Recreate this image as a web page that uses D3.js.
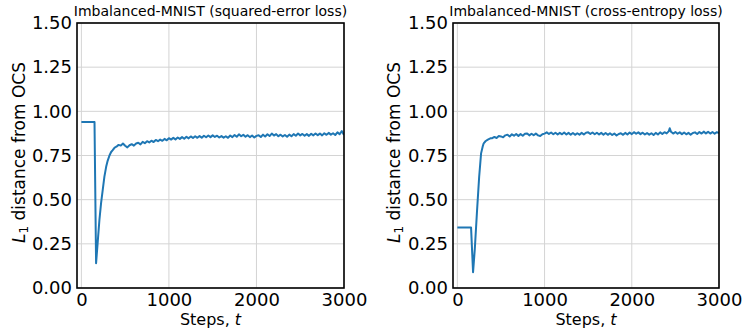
<!DOCTYPE html>
<html>
<head>
<meta charset="utf-8">
<script src="https://cdn.jsdelivr.net/npm/d3@7"></script>
<style>
html,body{margin:0;padding:0;background:#fff;}
svg{display:block;font-family:"DejaVu Sans",sans-serif;}
</style>
</head>
<body>
<svg id="chart" width="743" height="330"></svg>
<script>
const titles = ["Imbalanced-MNIST (squared-error loss)", "Imbalanced-MNIST (cross-entropy loss)"];
const xTicks = [0, 1000, 2000, 3000];
const yTicks = [0, 0.25, 0.5, 0.75, 1.0, 1.25, 1.5];

const stepsSq = [0,150,168,185,206,225,244,263,283,300,321,340,358,380,400,
425,450,475,500,525,550,575,600,625,650,675,700,725,750,775,800,825,850,875,900,925,950,975,1000,
1025,1050,1075,1100,1125,1150,1175,1200,1225,1250,1275,1300,1325,1350,1375,1400,1425,1450,1475,1500,
1525,1550,1575,1600,1625,1650,1675,1700,1725,1750,1775,1800,1825,1850,1875,1900,1925,1950,1975,2000,
2025,2050,2075,2100,2125,2150,2175,2200,2225,2250,2275,2300,2325,2350,2375,2400,2425,2450,2475,2500,
2525,2550,2575,2600,2625,2650,2675,2700,2725,2750,2775,2800,2825,2850,2875,2900,2925,2950,2975,3000];
const distSq = [0.94,0.94,0.14,0.25,0.385,0.48,0.555,0.63,0.686,0.72,0.75,0.77,0.78,0.795,0.80,
0.81,0.806,0.818,0.805,0.796,0.808,0.814,0.806,0.818,0.822,0.813,0.827,0.82,0.831,0.824,0.834,0.826,0.838,0.831,0.84,0.833,0.844,0.836,0.848,
0.84,0.85,0.841,0.852,0.844,0.854,0.845,0.856,0.847,0.858,0.849,0.859,0.85,0.86,0.851,0.862,0.853,0.863,0.854,0.864,
0.855,0.862,0.852,0.86,0.851,0.859,0.85,0.863,0.854,0.866,0.856,0.87,0.859,0.867,0.856,0.865,0.854,0.863,0.852,0.861,
0.865,0.855,0.868,0.858,0.87,0.86,0.874,0.863,0.871,0.859,0.868,0.858,0.866,0.856,0.868,0.859,0.871,0.862,0.874,0.864,
0.872,0.862,0.871,0.861,0.873,0.864,0.875,0.865,0.874,0.864,0.876,0.867,0.878,0.868,0.876,0.866,0.881,0.87,0.888,0.866];

const stepsCe = [0,157,180,200,226,250,272,290,302,325,350,378,400,
425,450,475,500,525,550,575,600,625,650,675,700,725,750,775,800,825,850,875,900,925,950,975,1000,
1025,1050,1075,1100,1125,1150,1175,1200,1225,1250,1275,1300,1325,1350,1375,1400,1425,1450,1475,1500,
1525,1550,1575,1600,1625,1650,1675,1700,1725,1750,1775,1800,1825,1850,1875,1900,1925,1950,1975,2000,
2025,2050,2075,2100,2125,2150,2175,2200,2225,2250,2275,2300,2325,2350,2375,2400,2425,2435,2450,2475,2500,
2525,2550,2575,2600,2625,2650,2675,2700,2725,2750,2775,2800,2825,2850,2875,2900,2925,2950,2975,3000];
const distCe = [0.343,0.343,0.089,0.22,0.441,0.63,0.762,0.80,0.819,0.832,0.84,0.847,0.848,
0.855,0.849,0.86,0.858,0.853,0.864,0.868,0.858,0.87,0.862,0.872,0.861,0.871,0.862,0.873,0.875,0.864,0.873,0.865,0.874,0.864,0.86,0.87,0.874,
0.881,0.872,0.88,0.87,0.879,0.869,0.878,0.87,0.88,0.869,0.878,0.868,0.877,0.867,0.876,0.868,0.878,0.869,0.879,0.881,
0.872,0.88,0.87,0.879,0.869,0.878,0.868,0.877,0.867,0.876,0.866,0.874,0.863,0.872,0.876,0.867,0.878,0.869,0.88,0.871,
0.882,0.873,0.881,0.871,0.879,0.869,0.877,0.868,0.876,0.866,0.878,0.869,0.881,0.872,0.882,0.875,0.888,0.904,0.884,0.874,0.883,
0.873,0.881,0.871,0.88,0.87,0.878,0.868,0.877,0.881,0.872,0.883,0.874,0.885,0.875,0.884,0.874,0.883,0.873,0.882,0.877];

const panels = [
  {title: titles[0], steps: stepsSq, vals: distSq, left: 77, right: 344, ylabX: 25},
  {title: titles[1], steps: stepsCe, vals: distCe, left: 453, right: 719, ylabX: 400}
];
const plotTop = 23, plotBottom = 288;
const svg = d3.select("#chart");
svg.append("rect").attr("width",743).attr("height",330).attr("fill","#fff");

panels.forEach((p, i) => {
  const x = d3.scaleLinear().domain([-50, 3000]).range([p.left, p.right]);
  const y = d3.scaleLinear().domain([0, 1.5]).range([plotBottom, plotTop]);
  const g = svg.append("g");
  const clipId = "clip" + i;
  svg.append("clipPath").attr("id", clipId).append("rect")
    .attr("x", p.left).attr("y", plotTop).attr("width", p.right - p.left).attr("height", plotBottom - plotTop);

  g.selectAll(".vg").data(xTicks).enter().append("line")
    .attr("x1", d => x(d)).attr("x2", d => x(d)).attr("y1", plotTop).attr("y2", plotBottom)
    .attr("stroke", "#d4d4d4").attr("stroke-width", 1);
  g.selectAll(".hg").data(yTicks).enter().append("line")
    .attr("x1", p.left).attr("x2", p.right).attr("y1", d => y(d)).attr("y2", d => y(d))
    .attr("stroke", "#d4d4d4").attr("stroke-width", 1);

  const data = p.steps.map((s, k) => [s, p.vals[k]]);
  g.append("path").datum(data)
    .attr("clip-path", `url(#${clipId})`)
    .attr("fill", "none").attr("stroke", "#1f77b4").attr("stroke-width", 2)
    .attr("stroke-linejoin", "round")
    .attr("d", d3.line().x(d => x(d[0])).y(d => y(d[1])));

  const ya = g.append("g").attr("transform", `translate(${p.left},0)`)
    .call(d3.axisLeft(y).tickValues(yTicks).tickSize(0).tickPadding(5).tickFormat(d3.format(".2f")));
  ya.select(".domain").remove();
  ya.selectAll("text").attr("font-size", 18).attr("font-family", "DejaVu Sans").attr("fill", "#000");
  const xa = g.append("g").attr("transform", `translate(0,${plotBottom})`)
    .call(d3.axisBottom(x).tickValues(xTicks).tickSize(0).tickPadding(5).tickFormat(d3.format("d")));
  xa.select(".domain").remove();
  xa.selectAll("text").attr("font-size", 18).attr("font-family", "DejaVu Sans").attr("fill", "#000");

  g.append("rect").attr("x", p.left).attr("y", plotTop).attr("width", p.right - p.left).attr("height", plotBottom - plotTop)
    .attr("fill", "none").attr("stroke", "#000").attr("stroke-width", 1.6);

  g.append("text").attr("x", (p.left + p.right) / 2).attr("y", 16).attr("text-anchor", "middle")
    .attr("font-size", 14).attr("fill", "#000").text(p.title);

  const xl = g.append("text").attr("x", (p.left + p.right) / 2).attr("y", 325).attr("text-anchor", "middle")
    .attr("font-size", 16).attr("fill", "#000");
  xl.append("tspan").text("Steps, ");
  xl.append("tspan").attr("font-style", "italic").text("t");

  const yl = g.append("text").attr("transform", `translate(${p.ylabX},${(plotTop + plotBottom) / 2 - 3}) rotate(-90)`)
    .attr("text-anchor", "middle").attr("font-size", 17).attr("fill", "#000");
  yl.append("tspan").attr("font-style", "italic").text("L");
  yl.append("tspan").attr("font-size", 12).attr("dy", 3).text("1");
  yl.append("tspan").attr("dy", -3).text(" distance from OCS");
});
</script>
</body>
</html>
